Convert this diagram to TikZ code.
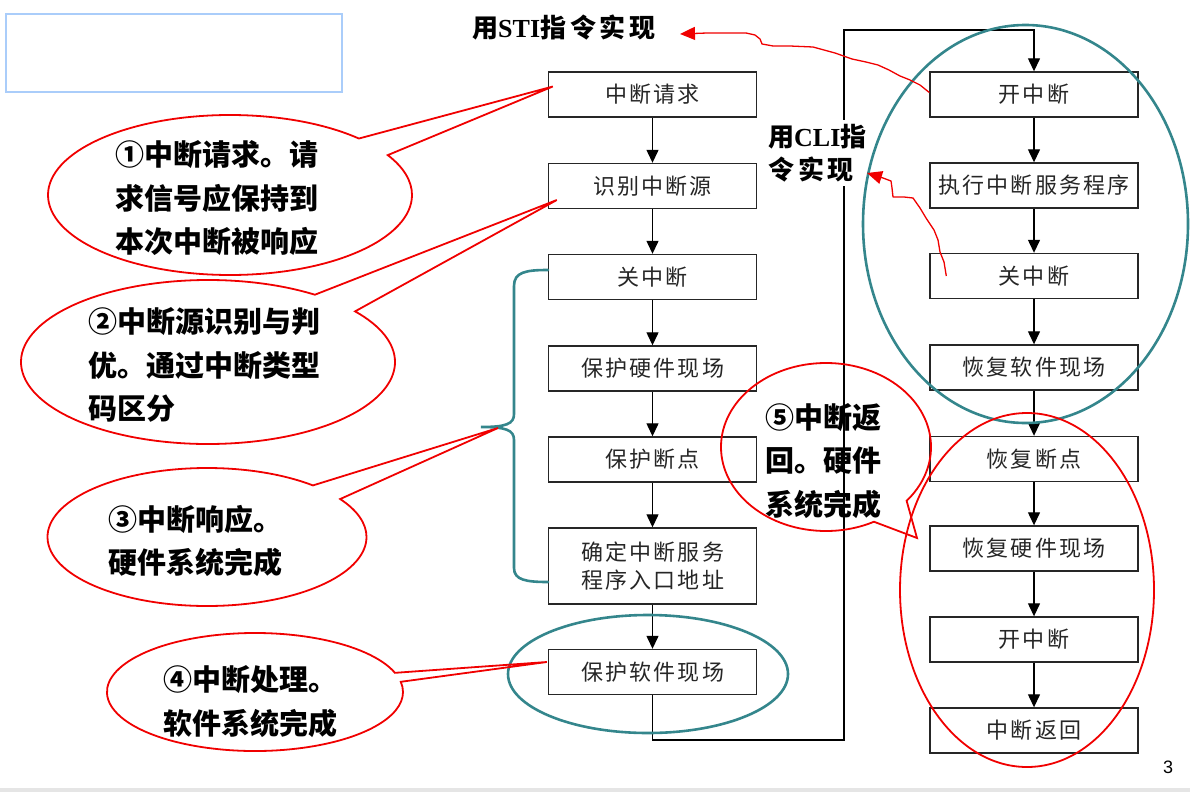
\documentclass[tikz,border=0pt]{standalone}
\usepackage{fontspec}
\setmainfont{Liberation Serif}
\setsansfont{Liberation Sans}
\newfontfamily\cjkbox[LetterSpace=10]{Noto Sans CJK SC}
\newfontfamily\cjkhei{Noto Sans CJK SC}
\newfontfamily\cjklabel[LetterSpace=15]{Noto Sans CJK SC}
\usetikzlibrary{arrows.meta,shapes.callouts}
\definecolor{calloutred}{RGB}{240,0,0}
\definecolor{ringteal}{RGB}{52,134,140}
\definecolor{slideframe}{RGB}{170,205,250}
\tikzset{
  stepbox/.style={rectangle, draw=black!85, fill=white, line width=1.4pt,
                  minimum width=208pt, minimum height=45pt, inner sep=0pt,
                  align=center, text=black!85, font={\cjkbox\fontsize{22}{28}\selectfont}},
  flow/.style    ={-{Triangle[length=13pt,width=12pt]}, line width=1.3pt, black},
  bubble/.style  ={ellipse callout, draw=calloutred, line width=1.8pt, inner sep=0pt},
  bubbletext/.style={anchor=west, align=left, inner sep=0pt,
                  font={\cjkhei\bfseries\fontsize{29}{43.5}\selectfont}},
  tealring/.style={draw=ringteal, line width=2.6pt},
  redring/.style ={draw=calloutred, line width=1.8pt},
  tealbrace/.style={draw=ringteal, line width=2.6pt, line cap=round},
  scrawl/.style  ={draw=calloutred, line width=1.3pt, line join=round,
                  -{Triangle[length=15pt,width=13pt]}},
  cmdlabel/.style={inner sep=0pt, align=left, font={\fontsize{26}{33}\selectfont\bfseries}},
}

\begin{document}
\begin{tikzpicture}[x=1pt, y=-1pt]
  \useasboundingbox (0,0) rectangle (1190,792);

  % --- slide frame and footer ----------------------------------------------
  \draw[slideframe, line width=2pt] (6,14) rectangle (342,92);
  \fill[black!10] (0,788) rectangle (1190,792);
  \node[font={\sffamily\fontsize{18}{20}\selectfont}] (pageno) at (1168,767) {3};

  % --- entry column --------------------------------------------------------
  \node[stepbox] (req)    at (652.5,94.5)  {中断请求};
  \node[stepbox] (ident)  at (652.5,186)   {识别中断源};
  \node[stepbox] (cliL)   at (652.5,277)   {关中断};
  \node[stepbox] (hwsave) at (652.5,368.5) {保护硬件现场};
  \node[stepbox] (bpsave) at (652.5,459.5) {保护断点};
  \node[stepbox, minimum height=76pt] (vector) at (652.5,566) {确定中断服务\\程序入口地址};
  \node[stepbox] (swsave) at (652.5,672)   {保护软件现场};

  % --- service and return column -------------------------------------------
  \node[stepbox] (stiA)   at (1034,94.5)   {开中断};
  \node[stepbox] (isr)    at (1034,185.5)  {执行中断服务程序};
  \node[stepbox] (cliR)   at (1034,276)    {关中断};
  \node[stepbox] (swrest) at (1034,367.5)  {恢复软件现场};
  \node[stepbox] (bprest) at (1034,459)    {恢复断点};
  \node[stepbox] (hwrest) at (1034,548.5)  {恢复硬件现场};
  \node[stepbox] (stiB)   at (1034,639.5)  {开中断};
  \node[stepbox] (iret)   at (1034,730.5)  {中断返回};

  % --- flow arrows ---------------------------------------------------------
  \draw[flow] (req) -- (ident);
  \draw[flow] (ident) -- (cliL);
  \draw[flow] (cliL) -- (hwsave);
  \draw[flow] (hwsave) -- (bpsave);
  \draw[flow] (bpsave) -- (vector);
  \draw[flow] (vector) -- (swsave);
  \coordinate (loopLow)  at (844,740);
  \coordinate (loopHigh) at (844,30);
  \draw[flow] (swsave.south) |- (loopLow) -- (loopHigh) -| (stiA.north);
  \draw[flow] (stiA) -- (isr);
  \draw[flow] (isr) -- (cliR);
  \draw[flow] (cliR) -- (swrest);
  \draw[flow] (swrest) -- (bprest);
  \draw[flow] (bprest) -- (hwrest);
  \draw[flow] (hwrest) -- (stiB);
  \draw[flow] (stiB) -- (iret);

  % --- instruction notes ---------------------------------------------------
  \node[cmdlabel, anchor=west] (stiNote) at (472,28) {{\cjklabel 用}STI{\cjklabel 指令实现}};
  \node[cmdlabel, anchor=west, fill=white, inner sep=4pt] (cliNote) at (764,153)
    {{\cjklabel 用}CLI{\cjklabel 指}\\{\cjklabel 令实现}};

  % --- hardware brace ------------------------------------------------------
  \coordinate (braceTip) at (498,428);
  \draw[tealbrace] (548,270) .. controls (526,270) and (514,272) .. (514,286)
    -- (514,414) .. controls (514,424) and (506,427) .. (481,427)
    .. controls (506,427) and (514,430) .. (514,440)
    -- (514,568) .. controls (514,580) and (526,582) .. (548,582);

  % --- rings ---------------------------------------------------------------
  \draw[tealring] (1025.5,224) ellipse [x radius=162.5pt, y radius=199pt];
  \draw[tealring] (648,674) ellipse [x radius=140pt, y radius=59pt];
  \draw[redring]  (1027,590) ellipse [x radius=127pt, y radius=177pt];
  \coordinate (ringTip) at (917,538);

  % --- callouts ------------------------------------------------------------
  \node[bubble, minimum width=364pt, minimum height=160pt, callout pointer arc=15,
        callout absolute pointer={([xshift=5pt,yshift=8pt]req.west)}] (bub1) at (230,195) {};
  \node[bubbletext] (txt1) at (115,198.5) {①中断请求。请\\求信号应保持到\\本次中断被响应};

  \node[bubble, minimum width=374pt, minimum height=164pt, callout pointer arc=17,
        callout absolute pointer={([xshift=9pt,yshift=-14pt]ident.west)}] (bub2) at (208,362) {};
  \node[bubbletext] (txt2) at (88,365) {②中断源识别与判\\优。通过中断类型\\码区分};

  \node[bubble, minimum width=319pt, minimum height=138pt, callout pointer arc=15,
        callout absolute pointer={(braceTip)}] (bub3) at (207,537) {};
  \node[bubbletext] (txt3) at (108,541) {③中断响应。\\硬件系统完成};

  \node[bubble, minimum width=296pt, minimum height=118pt, callout pointer arc=9,
        callout absolute pointer={([xshift=-1pt,yshift=10pt]swsave.west)}] (bub4) at (255,692) {};
  \node[bubbletext] (txt4) at (163,701.5) {④中断处理。\\软件系统完成};

  \node[bubble, minimum width=210pt, minimum height=168pt, callout pointer arc=23,
        callout absolute pointer={(ringTip)}] (bub5) at (826,447) {};
  \node[bubbletext] (txt5) at (765,461) {⑤中断返\\回。硬件\\系统完成};

  % --- hand-drawn pointers to the notes --------------------------------------
  \coordinate (stiTip) at (680,34);
  \draw[scrawl] ([yshift=2pt]stiA.west) -- (920,85) -- (910,80) -- (900,76) -- (889,70)
    -- (878,65) -- (866,62) -- (852,59) -- (835,53) -- (813,47) -- (790,46)
    -- (773,46) -- (762,44) -- (760,39) -- (755,35) -- (746,33) -- (707,33) -- (stiTip);
  \coordinate (cliTip) at (867,173);
  \draw[scrawl] ([xshift=17pt]cliR.west) -- (944,262) -- (940,252) -- (938,240)
    -- (934,230) -- (926,218) -- (920,208) -- (913,198) -- (904,197) -- (893,197)
    -- (892,188) -- (891,181) -- (883,178) -- (cliTip);
\end{tikzpicture}
\end{document}
